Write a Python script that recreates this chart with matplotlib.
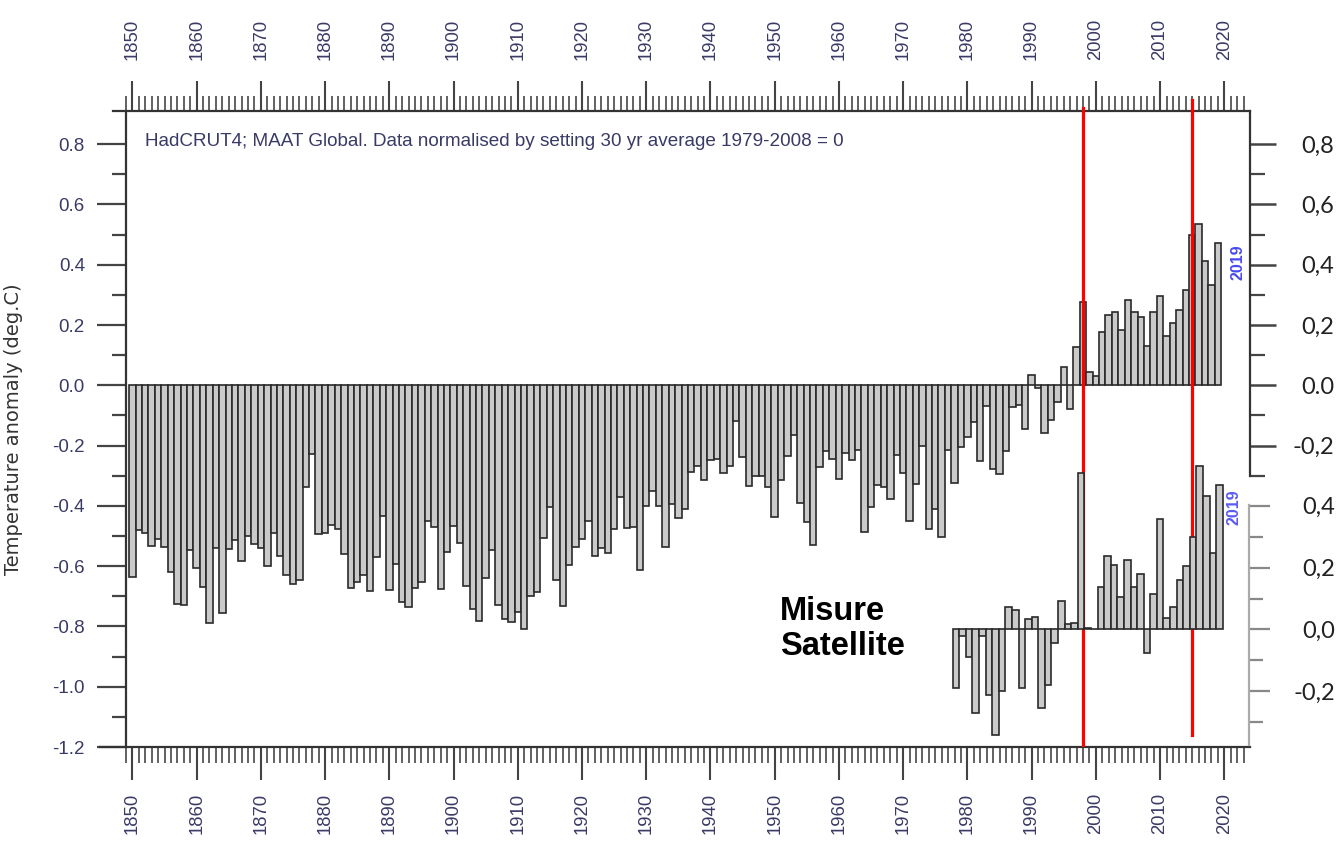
import matplotlib
matplotlib.use("Agg")
import matplotlib.pyplot as plt
import numpy as np
from matplotlib.ticker import FixedLocator

# ---------------- data ----------------
years = list(range(1850, 2020))
anomaly = [
    -0.636, -0.481, -0.491, -0.532, -0.511, -0.535, -0.621, -0.724, -0.730, -0.547,  # 1850s
    -0.606, -0.670, -0.787, -0.541, -0.757, -0.542, -0.514, -0.584, -0.501, -0.525,  # 1860s
    -0.539, -0.598, -0.490, -0.567, -0.631, -0.658, -0.647, -0.338, -0.228, -0.493,  # 1870s
    -0.490, -0.463, -0.476, -0.559, -0.672, -0.652, -0.630, -0.681, -0.570, -0.434,  # 1880s
    -0.679, -0.593, -0.718, -0.736, -0.673, -0.653, -0.449, -0.469, -0.675, -0.552,  # 1890s
    -0.466, -0.522, -0.665, -0.742, -0.783, -0.640, -0.546, -0.728, -0.774, -0.785,  # 1900s
    -0.753, -0.807, -0.700, -0.687, -0.507, -0.404, -0.646, -0.731, -0.596, -0.538,  # 1910s
    -0.510, -0.450, -0.565, -0.539, -0.557, -0.478, -0.371, -0.473, -0.469, -0.613,  # 1920s
    -0.400, -0.350, -0.400, -0.536, -0.394, -0.441, -0.410, -0.289, -0.269, -0.315,  # 1930s
    -0.249, -0.243, -0.290, -0.267, -0.119, -0.238, -0.334, -0.301, -0.302, -0.337,  # 1940s
    -0.436, -0.315, -0.235, -0.166, -0.392, -0.453, -0.530, -0.270, -0.217, -0.246,  # 1950s
    -0.312, -0.225, -0.249, -0.215, -0.486, -0.403, -0.331, -0.337, -0.376, -0.231,  # 1960s
    -0.290, -0.449, -0.328, -0.201, -0.477, -0.412, -0.504, -0.216, -0.325, -0.206,  # 1970s
    -0.171, -0.123, -0.252, -0.069, -0.277, -0.293, -0.218, -0.071, -0.065, -0.145,  # 1980s
    0.033, -0.009, -0.158, -0.115, -0.055, 0.062, -0.080, 0.127, 0.276, 0.043,       # 1990s
    0.031, 0.178, 0.233, 0.242, 0.184, 0.282, 0.243, 0.228, 0.132, 0.243,            # 2000s
    0.297, 0.162, 0.207, 0.251, 0.316, 0.500, 0.534, 0.414, 0.334, 0.473,            # 2010s
]

sat_years = list(range(1979, 2020))
sat_anomaly = [
    -0.19, -0.02, -0.09, -0.27, -0.02, -0.21, -0.34, -0.20, 0.074, 0.064,   # 1979-1988
    -0.19, 0.035, 0.041, -0.255, -0.18, -0.043, 0.092, 0.017, 0.02, 0.506,  # 1989-1998
    0.005, 0.0, 0.138, 0.237, 0.209, 0.105, 0.223, 0.138, 0.18, -0.075,     # 1999-2008
    0.113, 0.357, 0.038, 0.074, 0.159, 0.206, 0.30, 0.528, 0.43, 0.247,     # 2009-2018
    0.468,                                                                   # 2019
]

marker_years = [1998, 2015]

main_left_ticks = [0.8, 0.6, 0.4, 0.2, 0.0, -0.2, -0.4, -0.6, -0.8, -1.0, -1.2]
main_left_labels = ["0.8", "0.6", "0.4", "0.2", "0.0", "-0.2", "-0.4", "-0.6", "-0.8", "-1.0", "-1.2"]
main_right_ticks = [0.8, 0.6, 0.4, 0.2, 0.0, -0.2]
main_right_labels = ["0,8", "0,6", "0,4", "0,2", "0.0", "-0,2"]
sat_right_ticks = [0.4, 0.2, 0.0, -0.2]
sat_right_labels = ["0,4", "0,2", "0,0", "-0,2"]
decades = list(range(1850, 2030, 10))

title_text = "HadCRUT4; MAAT Global. Data normalised by setting 30 yr average 1979-2008 = 0"
ylabel_text = "Temperature anomaly (deg.C)"
sat_text = "Misure\nSatellite"

# ---------------- figure ----------------
W, H = 1338, 841
fig = plt.figure(figsize=(W / 100, H / 100), dpi=100)
fig.patch.set_facecolor("white")

def px2pt(p):
    return p * 0.72

# main axes box in pixels: left 126, right 1250, top 111, bottom 747
ax = fig.add_axes([126 / W, (H - 747) / H, 1124 / W, 636 / H])
ax.set_xlim(1849.0, 2024.0)
ax.set_ylim(-1.2, 0.91)

bar_fc = "#cacaca"
bar_ec = "#2a2a2a"
ax.bar(years, anomaly, width=1.0, color=bar_fc, edgecolor=bar_ec, linewidth=1.2, zorder=2)

spine_c = "#333333"
for s in ["left", "top", "bottom"]:
    ax.spines[s].set_color(spine_c)
    ax.spines[s].set_linewidth(1.6)
ax.spines["right"].set_visible(False)
ax.spines["top"].set_bounds(1847.0, 2024.0)
ax.spines["bottom"].set_bounds(1845.0, 2024.0)

label_c = "#3a3a66"
minor_years = [y for y in range(1849, 2024) if y % 10 != 0]

# bottom x axis
ax.set_xticks(decades)
ax.set_xticklabels([str(d) for d in decades])
ax.xaxis.set_minor_locator(FixedLocator(minor_years))
ax.tick_params(axis="x", which="both", top=False, bottom=True, labeltop=False, labelbottom=True,
               direction="out", colors="#444444", labelcolor=label_c, labelsize=13.3,
               labelrotation=90, labelfontfamily="Liberation Sans")
ax.tick_params(axis="x", which="major", length=px2pt(33), width=1.5, pad=px2pt(13))
ax.tick_params(axis="x", which="minor", length=px2pt(16), width=1.3, colors="#555555")

# top x axis
axt = ax.secondary_xaxis("top")
axt.spines["top"].set_visible(False)
axt.set_xticks(decades)
axt.set_xticklabels([str(d) for d in decades])
axt.xaxis.set_minor_locator(FixedLocator(minor_years))
axt.tick_params(axis="x", which="both", direction="out", colors="#444444", labelcolor=label_c,
                labelsize=13.3, labelrotation=90, labelfontfamily="Liberation Sans")
axt.tick_params(axis="x", which="major", length=px2pt(30), width=1.5, pad=px2pt(21))
axt.tick_params(axis="x", which="minor", length=px2pt(15), width=1.3, colors="#555555")

# y ticks left
ax.set_yticks(main_left_ticks)
ax.set_yticklabels(main_left_labels)
ax.yaxis.set_minor_locator(FixedLocator([0.7, 0.5, 0.3, 0.1, -0.1, -0.3, -0.5, -0.7, -0.9, -1.1]))
ax.tick_params(axis="y", which="both", left=True, right=False, direction="out",
               colors="#444444", labelcolor=label_c, labelsize=13.5,
               labelfontfamily="Liberation Sans")
ax.tick_params(axis="y", which="major", length=px2pt(29), width=1.6, pad=px2pt(12))
ax.tick_params(axis="y", which="minor", length=px2pt(14), width=1.6)

ax.set_ylabel(ylabel_text, fontsize=14, family="DejaVu Sans", color="#333333", labelpad=0)
ax.yaxis.set_label_coords(-(126 - 23) / 1124, 0.5)

ax.text((145 - 126) / 1124, (747 - 141) / 636, title_text, transform=ax.transAxes,
        fontsize=13.6, family="Liberation Sans", color=label_c, va="center", ha="left")

ax.text(2022.1, 0.41, "2019", rotation=90, fontsize=11.5, fontweight="bold",
        color="#4a4af0", family="Liberation Sans", ha="center", va="center")

ax.text((780 - 126) / 1124, (747 - 596) / 636, sat_text, transform=ax.transAxes,
        fontsize=23.5, fontweight="bold", family="Liberation Sans", color="black",
        ha="left", va="top", linespacing=1.15)

# main right axis (twin)
axr = ax.twinx()
axr.set_ylim(ax.get_ylim())
for s in ["left", "top", "bottom"]:
    axr.spines[s].set_visible(False)
axr.spines["right"].set_color(spine_c)
axr.spines["right"].set_linewidth(1.6)
axr.spines["right"].set_bounds(-0.3, 0.91)
axr.set_yticks(main_right_ticks)
axr.set_yticklabels(main_right_labels)
axr.yaxis.set_minor_locator(FixedLocator([0.7, 0.5, 0.3, 0.1, -0.1, -0.3]))
axr.tick_params(axis="y", which="both", right=True, left=False, direction="out",
                colors="#444444", labelcolor="#222222", labelsize=17,
                labelfontfamily="Lato")
axr.tick_params(axis="y", which="major", length=px2pt(26), width=1.8, pad=px2pt(58))
axr.tick_params(axis="y", which="minor", length=px2pt(15), width=1.6)
for lbl in axr.get_yticklabels():
    lbl.set_horizontalalignment("right")

# red marker lines
ax.axvline(marker_years[0], ymin=0.003, ymax=1.005, color="#ff0000", lw=2.3, clip_on=False, zorder=6)
ax.axvline(marker_years[1], ymin=0.019, ymax=1.017, color="#ff0000", lw=2.3, clip_on=False, zorder=6)

# ---------------- satellite inset ----------------
axi = fig.add_axes([940 / W, (H - 745) / H, 309 / W, 240 / H])
axi.patch.set_visible(False)
axi.set_xlim(1976.57, 2023.49)
axi.set_ylim(-0.373, 0.402)
axi.bar(sat_years, sat_anomaly, width=1.0, color=bar_fc, edgecolor=bar_ec, linewidth=1.2,
        clip_on=False, zorder=2)
for s in ["left", "top", "bottom"]:
    axi.spines[s].set_visible(False)
axi.spines["right"].set_color("#aaaaaa")
axi.spines["right"].set_linewidth(1.6)
axi.set_xticks([])
axi.yaxis.tick_right()
axi.set_yticks(sat_right_ticks)
axi.set_yticklabels(sat_right_labels)
axi.yaxis.set_minor_locator(FixedLocator([0.3, 0.1, -0.1, -0.3]))
axi.tick_params(axis="y", which="both", right=True, left=False, direction="out",
                colors="#888888", labelcolor="#222222", labelsize=17,
                labelfontfamily="Lato")
axi.tick_params(axis="y", which="major", length=px2pt(21), width=1.6, pad=px2pt(65))
axi.tick_params(axis="y", which="minor", length=px2pt(14), width=1.6)
for lbl in axi.get_yticklabels():
    lbl.set_horizontalalignment("right")

axi.text(2021.2, 0.395, "2019", rotation=90, fontsize=11.5, fontweight="bold",
         color="#5a5af5", family="Liberation Sans", ha="center", va="center")

fig.savefig("out.png", dpi=100, facecolor="white")
